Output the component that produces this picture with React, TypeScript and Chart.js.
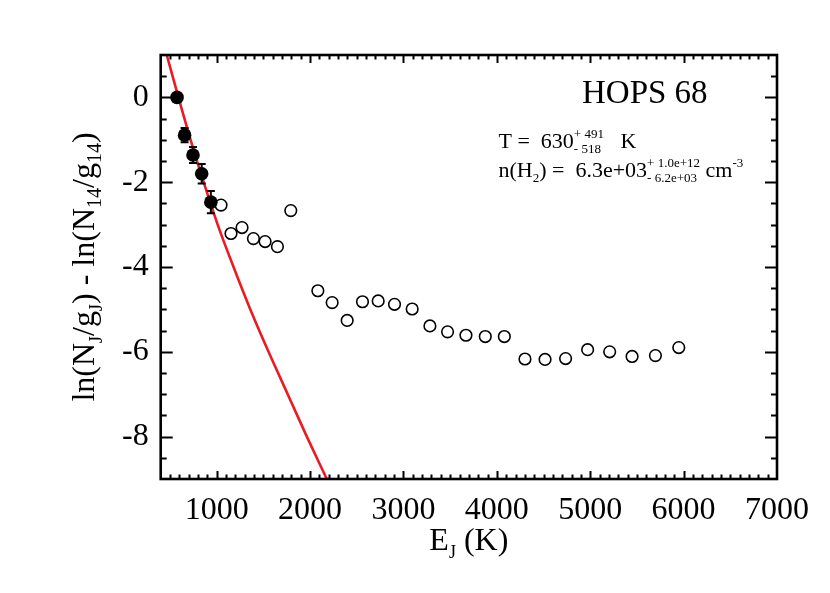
import React, { useEffect, useRef } from 'react';
import { Chart, registerables } from 'chart.js';

Chart.register(...registerables);

// ---------- data ----------
const openE = [1046, 1153, 1271, 1393, 1518, 1650, 1793, 2083, 2236, 2397, 2561, 2729, 2904, 3093, 3283, 3472, 3669, 3876, 4080, 4301, 4516, 4736, 4972, 5208, 5448, 5698, 5948];
const openLn = [-2.54, -3.21, -3.07, -3.33, -3.40, -3.52, -2.67, -4.56, -4.84, -5.26, -4.82, -4.80, -4.88, -4.99, -5.39, -5.53, -5.61, -5.64, -5.64, -6.17, -6.18, -6.16, -5.95, -6.00, -6.11, -6.09, -5.90];
const fitE = [575, 656, 746, 839, 937];
const fitLn = [0, -0.89, -1.36, -1.80, -2.47];
const fitErr = [0.05, 0.17, 0.19, 0.23, 0.26];
const modelE = [465, 590, 720, 860, 1010, 1180, 1360, 1555, 1760, 1965, 2179];
const modelLn = [1, 0, -1, -2, -3, -4, -5, -6, -7, -8, -9];
const xTicks = [1000, 2000, 3000, 4000, 5000, 6000, 7000];
const yTicks = [0, -2, -4, -6, -8];
const xMin = 400, xMax = 7000, yMin = -9, yMax = 1;
const titleText = 'HOPS 68';

const SERIF = "'Liberation Serif', 'Times New Roman', Times, serif";
const fnt = (s: number) => `${s}px ${SERIF}`;

type Run = { t?: string; size: number; dy?: number; sup?: string; sub?: string; supDy?: number; subDy?: number };

function drawRuns(ctx: CanvasRenderingContext2D, x: number, y: number, runs: Run[], draw = true): number {
  let cx = x;
  for (const r of runs) {
    ctx.font = fnt(r.size);
    if (r.sup !== undefined || r.sub !== undefined) {
      const w1 = r.sup ? ctx.measureText(r.sup).width : 0;
      const w2 = r.sub ? ctx.measureText(r.sub).width : 0;
      if (draw) {
        if (r.sup) ctx.fillText(r.sup, cx, y + (r.supDy ?? -10));
        if (r.sub) ctx.fillText(r.sub, cx, y + (r.subDy ?? 5));
      }
      cx += Math.max(w1, w2);
    } else {
      if (draw) ctx.fillText(r.t as string, cx, y + (r.dy ?? 0));
      cx += ctx.measureText(r.t as string).width;
    }
  }
  return cx - x;
}

const framePlugin = {
  id: 'idlFrame',
  afterDatasetsDraw(chart: any) {
    const { ctx, scales } = chart;
    const xs = scales.x, ys = scales.y;
    // error bars
    ctx.save();
    ctx.strokeStyle = '#000';
    ctx.lineWidth = 2;
    for (let i = 0; i < fitE.length; i++) {
      const px = xs.getPixelForValue(fitE[i]);
      const p1 = ys.getPixelForValue(fitLn[i] + fitErr[i]);
      const p2 = ys.getPixelForValue(fitLn[i] - fitErr[i]);
      ctx.beginPath();
      ctx.moveTo(px, p1); ctx.lineTo(px, p2);
      ctx.moveTo(px - 4, p1); ctx.lineTo(px + 4, p1);
      ctx.moveTo(px - 4, p2); ctx.lineTo(px + 4, p2);
      ctx.stroke();
    }
    ctx.restore();
  },
  afterDraw(chart: any) {
    const { ctx, chartArea: a, scales } = chart;
    const xs = scales.x, ys = scales.y;
    ctx.save();
    ctx.strokeStyle = '#000';
    ctx.lineWidth = 2;
    ctx.beginPath();
    for (let v = xMin + 100; v < xMax; v += 100) {
      const major = v % 1000 === 0;
      const len = major ? 8 : 4.5;
      const px = Math.round(xs.getPixelForValue(v)) + 0.5;
      ctx.moveTo(px, a.bottom); ctx.lineTo(px, a.bottom - len);
      ctx.moveTo(px, a.top); ctx.lineTo(px, a.top + len);
    }
    for (let v = yMin + 0.5; v < yMax; v += 0.5) {
      const major = Math.abs(v % 2) < 1e-9;
      const len = major ? 12 : 6;
      const py = Math.round(ys.getPixelForValue(v)) + 0.5;
      ctx.moveTo(a.left, py); ctx.lineTo(a.left + len, py);
      ctx.moveTo(a.right, py); ctx.lineTo(a.right - len, py);
    }
    ctx.stroke();
    ctx.lineWidth = 2.6;
    ctx.strokeRect(a.left, a.top, a.right - a.left, a.bottom - a.top);

    // texts
    ctx.fillStyle = '#000';
    ctx.textAlign = 'left';
    ctx.textBaseline = 'alphabetic';
    // title
    ctx.font = fnt(33);
    ctx.fillText(titleText, a.right - 195, a.top + 48);
    // annotation
    const ax = a.right - 278.5;
    drawRuns(ctx, ax, a.top + 93, [
      { t: 'T =  630', size: 22 },
      { sup: '+ 491', sub: '- 518', size: 13, supDy: -10, subDy: 5 },
      { t: '   K', size: 22 },
    ]);
    drawRuns(ctx, ax, a.top + 122, [
      { t: 'n(H', size: 22 },
      { t: '2', size: 13, dy: 5 },
      { t: ') =  6.3e+03', size: 22 },
      { sup: '+ 1.0e+12', sub: '- 6.2e+03', size: 13, supDy: -10, subDy: 5 },
      { t: ' cm', size: 22 },
      { t: '-3', size: 13, dy: -10 },
    ]);
    // x title
    const xRuns: Run[] = [
      { t: 'E', size: 32 },
      { t: 'J', size: 18, dy: 8 },
      { t: ' (K)', size: 32 },
    ];
    const wx = drawRuns(ctx, 0, 0, xRuns, false);
    drawRuns(ctx, (a.left + a.right) / 2 - wx / 2, a.bottom + 71, xRuns);
    // y title
    const yRuns: Run[] = [
      { t: 'ln(N', size: 32 },
      { t: 'J', size: 18, dy: 8 },
      { t: '/g', size: 32 },
      { t: 'J', size: 18, dy: 8 },
      { t: ') - ln(N', size: 32 },
      { t: '14', size: 20, dy: 7 },
      { t: '/g', size: 32 },
      { t: '14', size: 20, dy: 7 },
      { t: ')', size: 32 },
    ];
    const wy = drawRuns(ctx, 0, 0, yRuns, false);
    ctx.translate(94, (a.top + a.bottom) / 2);
    ctx.rotate(-Math.PI / 2);
    drawRuns(ctx, -wy / 2, 0, yRuns);
    ctx.restore();
  },
};

export default function App() {
  const ref = useRef<HTMLCanvasElement | null>(null);
  useEffect(() => {
    if (!ref.current) return;
    const chart = new Chart(ref.current, {
      type: 'scatter',
      data: {
        datasets: [
          {
            label: 'fit',
            data: fitE.map((e, i) => ({ x: e, y: fitLn[i] })),
            pointRadius: 6.8,
            pointBackgroundColor: '#000',
            pointBorderColor: '#000',
            pointBorderWidth: 0,
            showLine: false,
            order: 1,
          } as any,
          {
            label: 'all',
            data: openE.map((e, i) => ({ x: e, y: openLn[i] })),
            pointRadius: 5.8,
            pointBackgroundColor: 'rgba(255,255,255,0)',
            pointBorderColor: '#000',
            pointBorderWidth: 1.6,
            showLine: false,
            order: 2,
          } as any,
          {
            type: 'line',
            label: 'model',
            data: modelE.map((e, i) => ({ x: e, y: modelLn[i] })),
            borderColor: '#e81c24',
            borderWidth: 2.6,
            pointRadius: 0,
            showLine: true,
            fill: false,
            cubicInterpolationMode: 'monotone',
            order: 3,
          } as any,
        ],
      },
      options: {
        responsive: false,
        animation: false,
        devicePixelRatio: 1,
        layout: { padding: { top: 55, right: 53, left: 0, bottom: 0 } },
        plugins: { legend: { display: false }, tooltip: { enabled: false } },
        scales: {
          x: {
            type: 'linear',
            min: xMin,
            max: xMax,
            grid: { display: false, drawTicks: false },
            border: { display: false },
            afterBuildTicks: (s: any) => { s.ticks = xTicks.map((v) => ({ value: v })); },
            afterFit: (s: any) => { s.height = 114; s.paddingLeft = 0; s.paddingRight = 0; },
            ticks: { color: '#000', font: { family: SERIF, size: 32 }, padding: 12, maxRotation: 0, autoSkip: false, callback: (v: any) => String(v) },
          },
          y: {
            type: 'linear',
            min: yMin,
            max: yMax,
            grid: { display: false, drawTicks: false },
            border: { display: false },
            afterBuildTicks: (s: any) => { s.ticks = yTicks.map((v) => ({ value: v })); },
            afterFit: (s: any) => { s.width = 160.7; s.paddingTop = 0; s.paddingBottom = 0; },
            ticks: { color: '#000', font: { family: SERIF, size: 32 }, padding: 12, autoSkip: false, callback: (v: any) => String(v) },
          },
        },
      },
      plugins: [framePlugin],
    } as any);
    return () => chart.destroy();
  }, []);
  return (
    <div style={{ position: 'fixed', left: 0, top: 0, width: 830, height: 593, background: '#fff' }}>
      <canvas ref={ref} width={830} height={593} style={{ display: 'block', width: 830, height: 593 }} />
    </div>
  );
}
